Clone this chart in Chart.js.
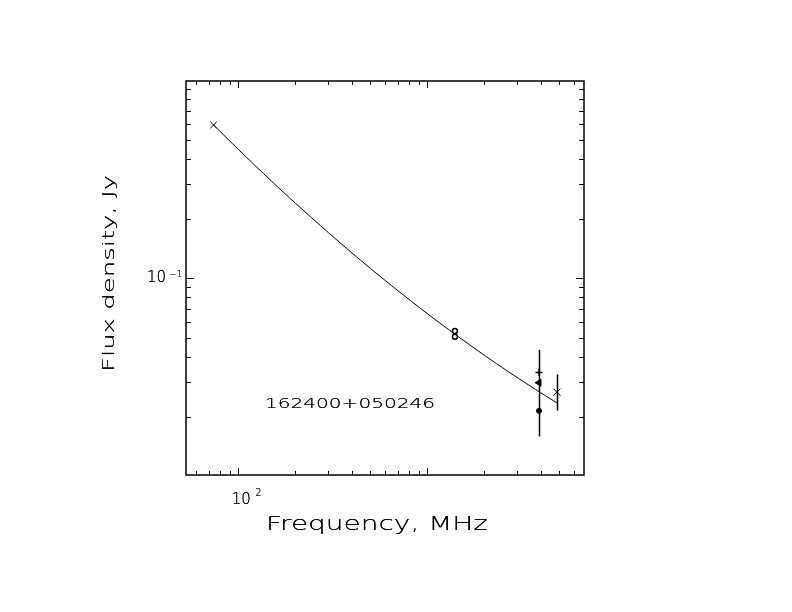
<!DOCTYPE html>
<html><head><meta charset="utf-8">
<script src="https://cdn.jsdelivr.net/npm/chart.js@4/dist/chart.umd.min.js"></script>
<style>html,body{margin:0;padding:0;background:#fff}canvas{display:block}</style>
</head><body>
<canvas id="c" width="792" height="612"></canvas>
<script>
// ---- text ----
const sourceName = "162400+050246";
const xTitle = "Frequency, MHz";
const yTitle = "Flux density, Jy";

// ---- fitted spectrum ----
const fitFreq = [74, 100, 150, 200, 300, 400, 500, 700, 1000, 1400, 2000, 2700, 3500, 4000, 4850];
const fitFlux = [0.5946, 0.4480, 0.3093, 0.2400, 0.1699, 0.1341, 0.1122, 0.0865, 0.0663, 0.0522, 0.0409, 0.03364, 0.02858, 0.02634, 0.02349];

// ---- measurements ----
const lowFreq = [74],          lowFlux = [0.5946];          // x marker
const nvssFreq = [1400, 1400], nvssFlux = [0.0542, 0.0507]; // open circles
const plusFreq = [3900],       plusFlux = [0.0334];         // plus
const triFreq = [3900],        triFlux = [0.0297];          // filled triangle
const dotFreq = [3900],        dotFlux = [0.0214];          // filled dot
const crossFreq = [4850],      crossFlux = [0.0266];        // x marker

// ---- error bars ----
const errFreq = [3900, 4850];
const errLow  = [0.0159, 0.02145];
const errHigh = [0.0435, 0.0327];

// ---- axes ----
const xRange = [52.9, 6745];
const yRange = [0.01015, 0.9919];
const xMajorTicks = [100, 1000];
const xMinorTicks = [60, 70, 80, 90, 200, 300, 400, 500, 600, 700, 800, 900, 2000, 3000, 4000, 5000, 6000];
const yMajorTicks = [0.1];
const yMinorTicks = [0.02, 0.03, 0.04, 0.05, 0.06, 0.07, 0.08, 0.09, 0.2, 0.3, 0.4, 0.5, 0.6, 0.7, 0.8, 0.9];
const xTickLabels = [{v: 100, base: "10", exp: "2"}];
const yTickLabels = [{v: 0.1, base: "10", exp: "-1"}];

const pts = (xs, ys) => xs.map((x, i) => ({x: x, y: ys[i]}));

const FONT = "'DejaVu Sans', 'Liberation Sans', sans-serif";

function dark(ctx, txt, x, y) { ctx.fillText(txt, x, y); ctx.fillText(txt, x, y); }

function fitText(ctx, txt, x, y, font, width, rot) {
  ctx.save();
  ctx.font = font;
  const w = ctx.measureText(txt).width;
  ctx.translate(x, y);
  if (rot) ctx.rotate(rot);
  ctx.scale(width / w, 1);
  ctx.textAlign = 'center';
  ctx.textBaseline = 'alphabetic';
  dark(ctx, txt, 0, 0);
  ctx.restore();
}

const framePlugin = {
  id: 'frame',
  afterDatasetsDraw(chart) {
    const ctx = chart.ctx;
    const xs = chart.scales.x, ys = chart.scales.y;
    const a = chart.chartArea;
    ctx.save();
    ctx.strokeStyle = '#000';
    ctx.fillStyle = '#000';
    // error bars
    ctx.lineWidth = 1.5;
    errFreq.forEach((f, i) => {
      const px = Math.round(xs.getPixelForValue(f)) + 0.5;
      ctx.beginPath();
      ctx.moveTo(px, ys.getPixelForValue(errLow[i]));
      ctx.lineTo(px, ys.getPixelForValue(errHigh[i]));
      ctx.stroke();
    });
    // frame
    ctx.lineWidth = 1.5;
    ctx.strokeRect(a.left, a.top, a.right - a.left, a.bottom - a.top);
    ctx.lineWidth = 1;
    const tick = (vals, len, isX) => {
      vals.forEach(v => {
        ctx.beginPath();
        if (isX) {
          const p = Math.round(xs.getPixelForValue(v)) + 0.5;
          ctx.moveTo(p, a.bottom); ctx.lineTo(p, a.bottom - len);
          ctx.moveTo(p, a.top); ctx.lineTo(p, a.top + len);
        } else {
          const p = Math.round(ys.getPixelForValue(v)) + 0.5;
          ctx.moveTo(a.left, p); ctx.lineTo(a.left + len, p);
          ctx.moveTo(a.right, p); ctx.lineTo(a.right - len, p);
        }
        ctx.stroke();
      });
    };
    tick(xMinorTicks, 4, true);
    tick(xMajorTicks, 7, true);
    tick(yMinorTicks, 5, false);
    tick(yMajorTicks, 8, false);

    // tick labels
    ctx.textBaseline = 'alphabetic';
    xTickLabels.forEach(t => {
      const p = xs.getPixelForValue(t.v);
      ctx.font = "200 15px " + FONT;
      ctx.textAlign = 'left';
      dark(ctx, t.base, p - 6.5, 504);
      ctx.font = "200 10px " + FONT;
      dark(ctx, t.exp, p + 17, 496);
    });
    yTickLabels.forEach(t => {
      const p = ys.getPixelForValue(t.v);
      ctx.font = "200 15px " + FONT;
      ctx.textAlign = 'right';
      dark(ctx, t.base, a.left - 20, p + 3.5);
      ctx.font = "200 9px " + FONT;
      ctx.textAlign = 'left';
      dark(ctx, t.exp.replace('-', '\u2212'), a.left - 17, p - 1);
    });

    // titles
    fitText(ctx, xTitle, 377, 530, "200 20px " + FONT, 222, 0);
    fitText(ctx, yTitle, 114, 273.5, "200 15px " + FONT, 197, -Math.PI / 2);
    fitText(ctx, sourceName, 350, 407.7, "200 14px " + FONT, 170, 0);
    ctx.restore();
  }
};

new Chart(document.getElementById('c'), {
  type: 'scatter',
  data: {
    datasets: [
      { data: pts(fitFreq, fitFlux), showLine: true, pointRadius: 0, borderColor: '#000', borderWidth: 1, tension: 0.3, order: 5 },
      { data: pts(lowFreq, lowFlux), pointStyle: 'crossRot', pointRadius: 4.5, borderColor: '#000', borderWidth: 1, order: 1 },
      { data: pts(crossFreq, crossFlux), pointStyle: 'crossRot', pointRadius: 5, borderColor: '#000', borderWidth: 1, order: 1 },
      { data: pts(nvssFreq, nvssFlux), pointStyle: 'circle', pointRadius: 2.5, borderColor: '#000', backgroundColor: '#fff', borderWidth: 1.5, order: 1 },
      { data: pts(plusFreq, plusFlux), pointStyle: 'cross', pointRadius: 3.5, borderColor: '#000', borderWidth: 1.5, order: 1 },
      { data: pts(triFreq, triFlux), pointStyle: 'triangle', rotation: 270, pointRadius: 4, borderColor: '#000', backgroundColor: '#000', borderWidth: 1, order: 1 },
      { data: pts(dotFreq, dotFlux), pointStyle: 'circle', pointRadius: 2.5, borderColor: '#000', backgroundColor: '#000', borderWidth: 1, order: 1 }
    ]
  },
  options: {
    responsive: false,
    animation: false,
    devicePixelRatio: 1,
    layout: { padding: { left: 186, right: 208, top: 81, bottom: 137 } },
    plugins: { legend: { display: false }, tooltip: { enabled: false } },
    scales: {
      x: { type: 'logarithmic', min: xRange[0], max: xRange[1], display: false },
      y: { type: 'logarithmic', min: yRange[0], max: yRange[1], display: false }
    }
  },
  plugins: [framePlugin]
});
</script>
</body></html>
